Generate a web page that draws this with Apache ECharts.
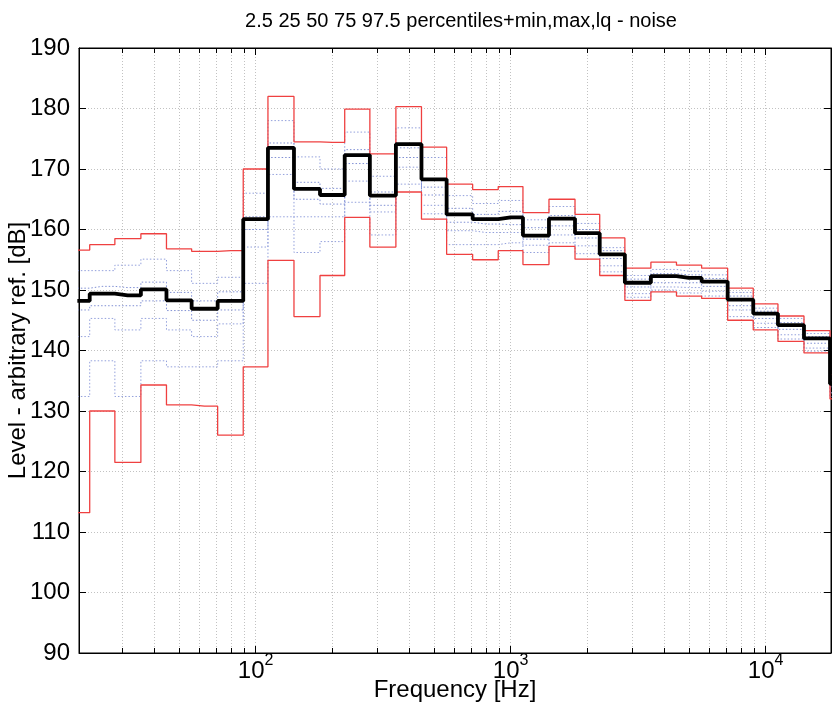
<!DOCTYPE html>
<html>
<head>
<meta charset="utf-8">
<script src="https://cdn.jsdelivr.net/npm/echarts@6/dist/echarts.min.js"></script>
<style>
html, body { margin: 0; padding: 0; background: #fff; }
#main { width: 832px; height: 714px; }
</style>
</head>
<body>
<div id="main"></div>
<script>
// 1/3 octave band centres [Hz]
const freqs = [20, 25, 31.5, 40, 50, 63, 80, 100, 125, 160, 200, 250, 315, 400, 500, 630, 800,
  1000, 1250, 1600, 2000, 2500, 3150, 4000, 5000, 6300, 8000, 10000, 12500, 16000, 20000];

const lq = [148.2, 149.4, 149.1, 150.1, 148.3, 146.9, 148.2, 161.7, 173.5, 166.7, 165.7, 172.3, 165.6, 174.1, 168.3, 162.5,
  161.7, 162.0, 159.0, 161.8, 159.4, 155.9, 151.2, 152.3, 152.0, 151.4, 148.4, 146.1, 144.2, 142.0, 134.5];
const maxLevel = [156.6, 157.5, 158.5, 159.3, 156.8, 156.4, 156.5, 170.0, 182.0, 174.5, 174.4, 179.9, 172.5, 180.3, 173.6, 167.5,
  166.6, 167.1, 162.8, 165.0, 162.5, 158.6, 153.6, 154.6, 154.1, 153.6, 150.3, 147.7, 145.7, 143.3, 136.0];
const minLevel = [113.2, 130.0, 121.5, 134.3, 131.0, 130.8, 126.0, 137.3, 154.9, 145.6, 152.4, 162.0, 157.1, 166.2, 161.7, 155.9,
  155.0, 156.5, 154.2, 157.2, 155.1, 152.4, 148.3, 149.7, 149.0, 148.6, 145.0, 143.4, 141.5, 139.6, 132.0];
const p975 = [153.2, 153.2, 154.1, 155.1, 153.2, 151.1, 152.1, 166.0, 178.0, 172.0, 170.0, 176.1, 168.8, 176.8, 171.9, 165.6,
  164.3, 164.8, 161.6, 163.8, 161.0, 157.0, 152.4, 153.4, 153.1, 152.5, 149.6, 147.0, 145.3, 142.8, 135.5];
const p75 = [150.3, 150.6, 150.4, 151.3, 149.6, 148.2, 149.7, 162.1, 174.3, 167.8, 166.8, 173.2, 166.2, 173.5, 167.0, 163.5,
  162.5, 163.0, 160.3, 162.3, 160.0, 156.5, 151.8, 152.7, 152.5, 151.9, 149.0, 146.5, 144.6, 142.3, 135.0];
const p50 = [146.7, 147.4, 147.4, 148.2, 146.6, 145.0, 146.7, 160.0, 171.9, 165.0, 164.2, 170.9, 164.0, 171.9, 165.7, 161.2,
  160.9, 160.8, 158.4, 160.6, 158.6, 155.2, 150.5, 151.2, 151.2, 150.6, 147.4, 145.3, 143.5, 141.2, 134.0];
const p25 = [142.3, 145.3, 143.4, 145.3, 143.4, 142.3, 144.4, 157.1, 169.1, 162.1, 162.1, 168.0, 162.9, 170.3, 164.0, 159.8,
  159.5, 159.5, 157.4, 159.1, 157.3, 154.0, 149.4, 150.5, 150.4, 149.8, 146.7, 144.5, 142.6, 140.4, 133.0];
const p025 = [132.4, 138.3, 132.4, 138.3, 137.3, 137.3, 138.3, 151.1, 162.1, 156.2, 158.0, 164.5, 159.1, 167.5, 162.6, 157.5,
  157.5, 157.8, 156.2, 157.8, 156.0, 153.0, 148.8, 150.0, 149.5, 149.0, 145.6, 143.8, 141.9, 139.9, 132.4];

// minor log grid positions
const minorFreqs = [30, 40, 50, 60, 70, 80, 90, 200, 300, 400, 500, 600, 700, 800, 900,
  2000, 3000, 4000, 5000, 6000, 7000, 8000, 9000];

const yMin = 90, yMax = 190;
const xMin = 20.3, xMax = 18050;
const font = '"Liberation Sans", Arial, sans-serif';

function pts(vals) {
  return freqs.map((f, i) => [f, vals[i]]);
}

function stepLine(name, vals, color, width, dash, z) {
  return {
    name: name,
    type: 'line',
    step: 'middle',
    data: pts(vals),
    showSymbol: false,
    symbol: 'none',
    clip: true,
    z: z,
    lineStyle: { color: color, width: width, type: dash },
    emphasis: { disabled: true }
  };
}

const chart = echarts.init(document.getElementById('main'));

const logAxis = {
  type: 'log',
  logBase: 10,
  min: xMin,
  max: xMax
};

const option = {
  animation: false,
  backgroundColor: '#fff',
  title: {
    text: '2.5 25 50 75 97.5 percentiles+min,max,lq - noise',
    left: 456,
    top: 6,
    textAlign: 'center',
    textStyle: { fontFamily: font, fontSize: 20, fontWeight: 'normal', color: '#000' }
  },
  grid: {
    left: 79,
    right: 1,
    top: 48,
    bottom: 61,
    outerBoundsMode: 'none',
    containLabel: false,
    show: true,
    borderColor: '#000',
    borderWidth: 1,
    backgroundColor: 'transparent'
  },
  xAxis: [
    Object.assign({}, logAxis, {
      position: 'bottom',
      name: 'Frequency [Hz]',
      nameLocation: 'middle',
      nameGap: 25,
      nameMoveOverlap: false,
      nameTextStyle: { fontFamily: font, fontSize: 24, color: '#000', verticalAlign: 'top' },
      axisLine: { lineStyle: { color: '#000', width: 1 } },
      axisTick: { inside: true, length: 7, lineStyle: { color: '#000' } },
      splitLine: { show: true, lineStyle: { color: '#c2c2c2', type: [1, 2], width: 1 } },
      axisLabel: {
        margin: 0,
        color: '#000',
        fontFamily: font,
        formatter: function (v) {
          const e = Math.round(Math.log10(v));
          if (Math.abs(Math.pow(10, e) - v) > 1e-6 * v) return '';
          return '{b|10}{s|' + e + '}';
        },
        rich: {
          b: { fontFamily: font, fontSize: 24, color: '#000', verticalAlign: 'bottom' },
          s: { fontFamily: font, fontSize: 16, color: '#000', verticalAlign: 'bottom', padding: [0, 0, 14, 0] }
        }
      }
    }),
    Object.assign({}, logAxis, {
      position: 'top',
      axisLine: { lineStyle: { color: '#000', width: 1 } },
      axisTick: { inside: true, length: 7, lineStyle: { color: '#000' } },
      axisLabel: { show: false },
      splitLine: { show: false }
    })
  ],
  yAxis: [
    {
      type: 'value',
      min: yMin,
      max: yMax,
      interval: 10,
      position: 'left',
      name: 'Level - arbitrary ref. [dB]',
      nameLocation: 'middle',
      nameGap: 49,
      nameMoveOverlap: false,
      nameTextStyle: { fontFamily: font, fontSize: 24, color: '#000' },
      axisLine: { show: true, lineStyle: { color: '#000', width: 1 } },
      axisTick: { show: true, inside: true, length: 7, lineStyle: { color: '#000' } },
      splitLine: { show: true, lineStyle: { color: '#c2c2c2', type: [1, 2], width: 1 } },
      axisLabel: { margin: 9, fontFamily: font, fontSize: 24, color: '#000' }
    },
    {
      type: 'value',
      min: yMin,
      max: yMax,
      interval: 10,
      position: 'right',
      axisLine: { show: true, lineStyle: { color: '#000', width: 1 } },
      axisTick: { show: true, inside: true, length: 7, lineStyle: { color: '#000' } },
      splitLine: { show: false },
      axisLabel: { show: false }
    }
  ],
  series: [
    {
      type: 'custom',
      silent: true,
      clip: true,
      z: 1,
      data: minorFreqs.map(f => [f, yMin]),
      renderItem: function (params, api) {
        const f = api.value(0);
        const b = api.coord([f, yMin]);
        const t = api.coord([f, yMax]);
        const x = Math.round(b[0]) + 0.5;
        return {
          type: 'group',
          children: [
            { type: 'line', shape: { x1: x, y1: b[1], x2: x, y2: t[1] },
              style: { stroke: '#c2c2c2', lineWidth: 1, lineDash: [1, 2] } },
            { type: 'line', shape: { x1: x, y1: b[1], x2: x, y2: b[1] - 5 },
              style: { stroke: '#000', lineWidth: 1 } },
            { type: 'line', shape: { x1: x, y1: t[1], x2: x, y2: t[1] + 5 },
              style: { stroke: '#000', lineWidth: 1 } }
          ]
        };
      }
    },
    stepLine('2.5%', p025, '#93a0dc', 1, [1.5, 2], 2),
    stepLine('25%', p25, '#93a0dc', 1, [1.5, 2], 2),
    stepLine('50%', p50, '#8090d4', 1, [1.5, 2], 2),
    stepLine('75%', p75, '#8090d4', 1, [1.5, 2], 2),
    stepLine('97.5%', p975, '#93a0dc', 1, [1.5, 2], 2),
    stepLine('min', minLevel, '#ef4040', 1.3, 'solid', 3),
    stepLine('max', maxLevel, '#ef4040', 1.3, 'solid', 3),
    stepLine('lq', lq, '#000', 3.8, 'solid', 4)
  ]
};

chart.setOption(option);
</script>
</body>
</html>
